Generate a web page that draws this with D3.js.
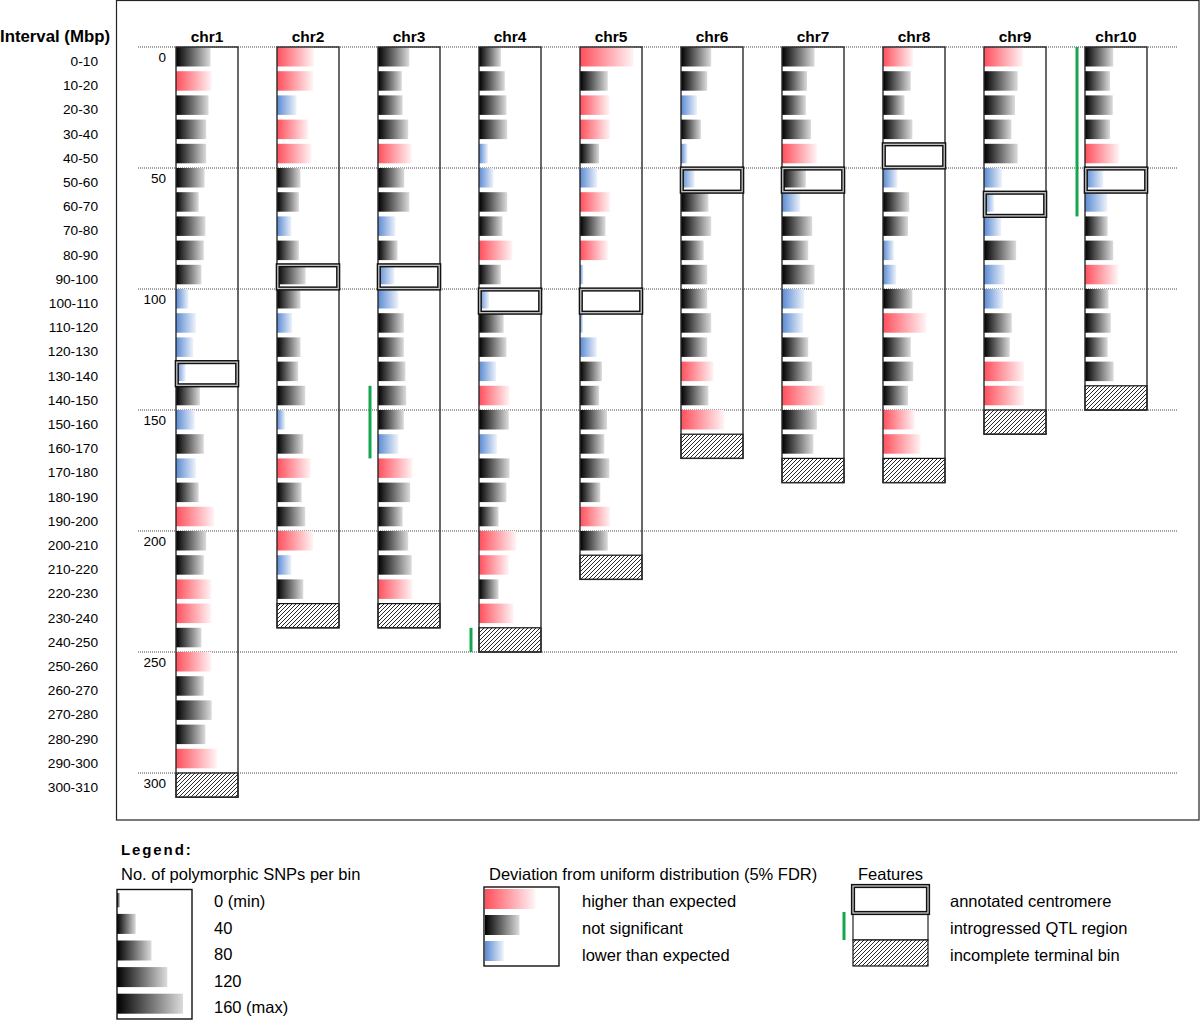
<!DOCTYPE html>
<html><head><meta charset="utf-8">
<script src="https://cdn.jsdelivr.net/npm/d3@7"></script>
<style>
body{margin:0;background:#fff}
svg{display:block;font-family:"Liberation Sans",Arial,Helvetica,sans-serif}
</style>
</head><body>
<svg id="c" width="1200" height="1020"></svg>
<script>
// ---------------- DATA ----------------
const chromosomes = ["chr1","chr2","chr3","chr4","chr5","chr6","chr7","chr8","chr9","chr10"];
// polymorphic SNPs per 10 Mbp bin (last, incomplete terminal bin not listed)
const snpChr1  = [80,83,75,69,69,65,50,67,63,57,24,43,36,17,53,40,63,43,50,89,69,63,82,82,57,82,63,83,67,96];
const snpChr2  = [86,84,42,72,80,52,48,29,48,65,52,31,52,46,64,13,59,78,55,64,84,29,59];
const snpChr3  = [72,53,55,69,78,59,72,37,42,34,44,58,58,62,64,58,44,80,74,55,69,78,80];
const snpChr4  = [48,58,62,64,15,29,64,52,77,48,18,55,62,36,70,68,38,70,62,42,87,68,42,80];
const snpChr5  = [128,63,67,69,41,36,69,57,63,1,null,0,35,48,41,61,54,67,44,69,63];
const snpChr6  = [69,59,33,43,9,27,62,69,50,59,59,69,59,75,62,102];
const snpChr7  = [75,56,53,66,81,53,39,69,59,75,49,46,59,69,101,81,72];
const snpChr8  = [69,63,47,67,0,29,59,56,20,26,67,102,63,69,56,73,88];
const snpChr9  = [91,78,71,62,78,38,18,36,74,45,41,63,58,94,94];
const snpChr10 = [64,56,63,56,79,39,49,50,64,76,52,58,50,65];
// deviation from uniform distribution: h = higher, n = not significant, l = lower
const devChr1  = "nhnnnnnnnnllllnlnlnhnnhhnhnnnh";
const devChr2  = "hhlhhnnlnnnlnnnlnhnnhln";
const devChr3  = "nnnnhnnlnllnnnnnlhnnnnh";
const devChr4  = "nnnnllnnhnlnnlhnlnnnhhnh";
const devChr5  = "hnhhnlhnhllllnnnnnnhn";
const devChr6  = "nnlnllnnnnnnnhnh";
const devChr7  = "nnnnhnlnnnllnnhnn";
const devChr8  = "hnnnllnnllnhnnnhh";
const devChr9  = "hnnnnlllnllnnhh";
const devChr10 = "nnnnhllnnhnnnn";
const centromereStart = [130,90,90,100,100,50,50,40,60,50];
const qtlChr   = ["chr3","chr4","chr10"];
const qtlStart = [140,240,0];
const qtlEnd   = [170,250,70];
const yTicks = [0,50,100,150,200,250,300];
const intervalLabels = ["0-10","10-20","20-30","30-40","40-50","50-60","60-70","70-80","80-90","90-100",
  "100-110","110-120","120-130","130-140","140-150","150-160","160-170","170-180","180-190","190-200",
  "200-210","210-220","220-230","230-240","240-250","250-260","260-270","270-280","280-290","290-300","300-310"];
const legendSnpValues = [0,40,80,120,160];
const legendSnpLabels = ["0 (min)","40","80","120","160 (max)"];
const legendDevKeys   = ["h","n","l"];
const legendDevValues = [120,80,40];
const legendDevLabels = ["higher than expected","not significant","lower than expected"];
const featureLabels   = ["annotated centromere","introgressed QTL region","incomplete terminal bin"];

const snpAll = [snpChr1,snpChr2,snpChr3,snpChr4,snpChr5,snpChr6,snpChr7,snpChr8,snpChr9,snpChr10];
const devAll = [devChr1,devChr2,devChr3,devChr4,devChr5,devChr6,devChr7,devChr8,devChr9,devChr10];

// ---------------- CHART ----------------
const svg = d3.select("#c");
const defs = svg.append("defs");
const gradStops = {
  h: ["#ff4f5c", "#fff4f5"],
  n: ["#000000", "#dcdcdc"],
  l: ["#5a8ad2", "#eef3fb"]
};
Object.entries(gradStops).forEach(([k,[c0,c1]]) => {
  const g = defs.append("linearGradient").attr("id","g-"+k).attr("x1",0).attr("x2",1).attr("y1",0).attr("y2",0);
  g.append("stop").attr("offset","0%").attr("stop-color",c0);
  g.append("stop").attr("offset","100%").attr("stop-color",c1);
});
const pat = defs.append("pattern").attr("id","hatch").attr("patternUnits","userSpaceOnUse")
  .attr("width",4).attr("height",4);
pat.append("rect").attr("width",4).attr("height",4).attr("fill","#fff");
pat.append("path").attr("d","M-1,1 l2,-2 M0,4 l4,-4 M3,5 l2,-2").attr("stroke","#111").attr("stroke-width",0.9);

const y = d3.scaleLinear().domain([0,310]).range([47, 47 + 310*2.42]);
const xc = d3.scaleBand().domain(chromosomes).range([176,1147]).paddingInner(39/101).paddingOuter(0);
const w = d3.scaleLinear().domain([0,160]).range([3,66]);
const step = y(10) - y(0);
const barH = 19.5;

// outer frame
svg.append("rect").attr("x",116.5).attr("y",0.5).attr("width",1082.5).attr("height",819.5)
  .attr("fill","none").attr("stroke","#222").attr("stroke-width",1.2);

// dotted grid lines & tick labels
svg.append("g").selectAll("line").data(yTicks).join("line")
  .attr("x1",138).attr("x2",1178).attr("y1",d=>y(d)).attr("y2",d=>y(d))
  .attr("stroke","#444").attr("stroke-width",1).attr("stroke-dasharray","1,1");
svg.append("g").selectAll("text").data(yTicks).join("text")
  .attr("x",166).attr("y",d=>y(d)+14.5).attr("text-anchor","end")
  .attr("font-size",13.5).text(d=>d);

// interval labels
svg.append("text").attr("x",110).attr("y",42).attr("text-anchor","end")
  .attr("font-size",16.8).attr("font-weight","bold").text("Interval (Mbp)");
svg.append("g").selectAll("text").data(intervalLabels).join("text")
  .attr("x",98).attr("y",(d,i)=>y(i*10)+19).attr("text-anchor","end")
  .attr("font-size",13.7).text(d=>d);

// chromosome headers
svg.append("g").selectAll("text").data(chromosomes).join("text")
  .attr("x",d=>xc(d)+xc.bandwidth()/2).attr("y",41.5).attr("text-anchor","middle")
  .attr("font-size",15.5).attr("font-weight","bold").text(d=>d);

chromosomes.forEach((chr,ci) => {
  const g = svg.append("g");
  const x0 = xc(chr);
  const counts = snpAll[ci];
  const dev = devAll[ci];
  const nb = counts.length + 1;
  const bins = counts.map((c,i)=>({c, s:dev[i], start:i*10})).filter(d=>d.c!==null);
  g.selectAll("rect.bar").data(bins).join("rect").attr("class","bar")
    .attr("x",x0).attr("y",d=>y(d.start)).attr("width",d=>w(d.c)).attr("height",barH)
    .attr("fill",d=>"url(#g-"+d.s+")");
  // terminal incomplete bin
  g.append("rect").attr("x",x0).attr("y",y((nb-1)*10)).attr("width",xc.bandwidth())
    .attr("height",step).attr("fill","url(#hatch)").attr("stroke","#111").attr("stroke-width",1.2);
  // chromosome box
  g.append("rect").attr("x",x0).attr("y",y(0)).attr("width",xc.bandwidth()).attr("height",y(nb*10)-y(0))
    .attr("fill","none").attr("stroke","#2a2a2a").attr("stroke-width",1.4);
  // centromere
  const cs = centromereStart[ci];
  g.append("rect").attr("x",x0+0.8).attr("y",y(cs)+0.5).attr("width",xc.bandwidth()-1.6).attr("height",step-1)
    .attr("fill","none").attr("stroke","#111").attr("stroke-width",4.2);
  g.append("rect").attr("x",x0+0.8).attr("y",y(cs)+0.5).attr("width",xc.bandwidth()-1.6).attr("height",step-1)
    .attr("fill","none").attr("stroke","#c8c8c8").attr("stroke-width",1.3);
});

// QTL lines
svg.append("g").selectAll("line").data(qtlChr).join("line")
  .attr("x1",d=>xc(d)-8).attr("x2",d=>xc(d)-8)
  .attr("y1",(d,i)=>y(qtlStart[i])).attr("y2",(d,i)=>y(qtlEnd[i]))
  .attr("stroke","#13a64f").attr("stroke-width",3);

// ---------------- LEGEND ----------------
const FS = 16.5;
const L = svg.append("g");
L.append("text").attr("x",121).attr("y",855).attr("font-size",15).attr("font-weight","bold")
  .attr("letter-spacing",1.9).text("Legend:");
L.append("text").attr("x",121).attr("y",880).attr("font-size",FS).text("No. of polymorphic SNPs per bin");
defs.append("clipPath").attr("id","lclip").append("rect").attr("x",117).attr("y",893).attr("width",75).attr("height",126);
L.append("g").attr("clip-path","url(#lclip)").selectAll("rect").data(legendSnpValues).join("rect")
  .attr("x",117).attr("y",(d,i)=>887.3+i*26.6).attr("width",d=>w(d)).attr("height",20)
  .attr("fill","url(#g-n)");
L.append("rect").attr("x",117).attr("y",889.5).attr("width",75).attr("height",129.5)
  .attr("fill","none").attr("stroke","#111").attr("stroke-width",1.4);
L.append("g").selectAll("text").data(legendSnpLabels).join("text")
  .attr("x",214).attr("y",(d,i)=>907+i*26.6).attr("font-size",FS).text(d=>d);

L.append("text").attr("x",489).attr("y",880).attr("font-size",FS).text("Deviation from uniform distribution (5% FDR)");
L.append("g").selectAll("rect").data(legendDevKeys).join("rect")
  .attr("x",485).attr("y",(d,i)=>889+i*26).attr("width",(d,i)=>w(legendDevValues[i])).attr("height",20)
  .attr("fill",d=>"url(#g-"+d+")");
L.append("rect").attr("x",484).attr("y",887).attr("width",75).attr("height",79)
  .attr("fill","none").attr("stroke","#111").attr("stroke-width",1.4);
L.append("g").selectAll("text").data(legendDevLabels).join("text")
  .attr("x",582).attr("y",(d,i)=>907+i*27).attr("font-size",FS).text(d=>d);

L.append("text").attr("x",858).attr("y",880).attr("font-size",FS).text("Features");
L.append("rect").attr("x",853).attr("y",913).attr("width",75).attr("height",27)
  .attr("fill","none").attr("stroke","#222").attr("stroke-width",1.2);
L.append("rect").attr("x",853).attr("y",940).attr("width",75).attr("height",26)
  .attr("fill","url(#hatch)").attr("stroke","#111").attr("stroke-width",1.2);
L.append("rect").attr("x",853).attr("y",886).attr("width",75).attr("height",27)
  .attr("fill","#fff").attr("stroke","#111").attr("stroke-width",4.2);
L.append("rect").attr("x",853).attr("y",886).attr("width",75).attr("height",27)
  .attr("fill","none").attr("stroke","#c8c8c8").attr("stroke-width",1.3);
L.append("line").attr("x1",844).attr("x2",844).attr("y1",912).attr("y2",940)
  .attr("stroke","#13a64f").attr("stroke-width",3);
L.append("g").selectAll("text").data(featureLabels).join("text")
  .attr("x",950).attr("y",(d,i)=>907+i*27).attr("font-size",FS).text(d=>d);
</script>
</body></html>
